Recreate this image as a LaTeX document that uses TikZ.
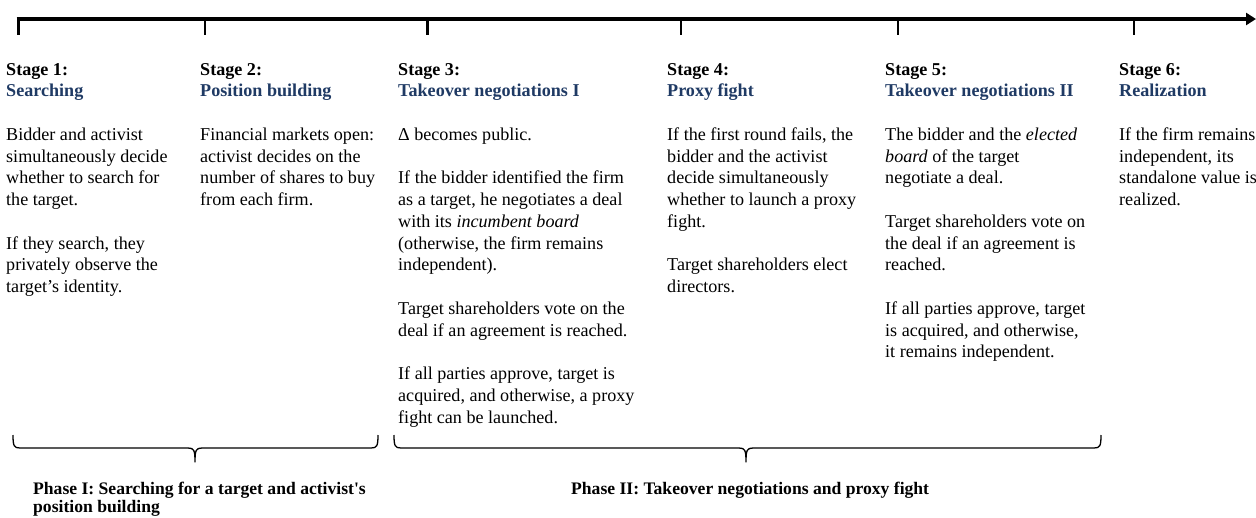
\documentclass[tikz,border=0pt]{standalone}
\usepackage{fontspec}
\setmainfont{Liberation Serif}
\usetikzlibrary{arrows.meta}
\definecolor{headblue}{RGB}{31,58,100}
\newcommand\StgHead[2]{\textbf{#1}\\\textbf{\color{headblue}#2}\\[21.75pt]}
\newcommand\PhBrace[3]{%
  \draw[bracestyle] (#1,435) .. controls (#1,446) and (#1+1,448) .. (#1+7,448)
    -- (#2-7,448) .. controls (#2-1,448) and (#2,450) .. (#2,462)
    .. controls (#2,450) and (#2+1,448) .. (#2+7,448)
    -- (#3-7,448) .. controls (#3-1,448) and (#3,446) .. (#3,435);}
\begin{document}
\begin{tikzpicture}[x=1pt,y=-1pt,
  stagetext/.style={anchor=base west,inner sep=0pt,
    font=\fontsize{18.1}{21.75}\selectfont},
  phasetext/.style={anchor=base west,inner sep=0pt,
    font=\fontsize{17.6}{18.5}\selectfont\bfseries},
  timeline/.style={line width=3.2pt,-{Triangle[length=10pt,width=12pt]}},
  tick/.style={line width=2.7pt},
  bracestyle/.style={line width=1.3pt,line join=round}]
\useasboundingbox (0,0) rectangle (1256,517);
% timeline
\coordinate (t0) at (16.5,19);
\coordinate (tend) at (1256,19);
\draw[timeline] (t0) -- (tend);
\foreach \x/\n in {18.5/1,205/2,427.5/3,681/4,898/5,1134/6}{
  \coordinate (tk\n) at (\x,19);
  \coordinate (tkb\n) at (\x,35);
  \draw[tick] (tk\n) -- (tkb\n);
}
% stages
\node[stagetext] (s1) at (6,75) {\parbox[t]{200pt}{\raggedright
  \StgHead{Stage 1:}{Searching}
  Bidder and activist\\
  simultaneously decide\\
  whether to search for\\
  the target.\\[21.75pt]
  If they search, they\\
  privately observe the\\
  target's identity.}};
\node[stagetext] (s2) at (200,75) {\parbox[t]{200pt}{\raggedright
  \StgHead{Stage 2:}{Position building}
  Financial markets open:\\
  activist decides on the\\
  number of shares to buy\\
  from each firm.}};
\node[stagetext] (s3) at (398,75) {\parbox[t]{270pt}{\raggedright
  \StgHead{Stage 3:}{Takeover negotiations I}
  Δ becomes public.\\[21.75pt]
  If the bidder identified the firm\\
  as a target, he negotiates a deal\\
  with its \textit{incumbent board}\\
  (otherwise, the firm remains\\
  independent).\\[21.75pt]
  Target shareholders vote on the\\
  deal if an agreement is reached.\\[21.75pt]
  If all parties approve, target is\\
  acquired, and otherwise, a proxy\\
  fight can be launched.}};
\node[stagetext] (s4) at (667,75) {\parbox[t]{220pt}{\raggedright
  \StgHead{Stage 4:}{Proxy fight}
  If the first round fails, the\\
  bidder and the activist\\
  decide simultaneously\\
  whether to launch a proxy\\
  fight.\\[21.75pt]
  Target shareholders elect\\
  directors.}};
\node[stagetext] (s5) at (885,75) {\parbox[t]{230pt}{\raggedright
  \StgHead{Stage 5:}{Takeover negotiations II}
  The bidder and the \textit{elected}\\
  \textit{board} of the target\\
  negotiate a deal.\\[21.75pt]
  Target shareholders vote on\\
  the deal if an agreement is\\
  reached.\\[21.75pt]
  If all parties approve, target\\
  is acquired, and otherwise,\\
  it remains independent.}};
\node[stagetext] (s6) at (1119,75) {\parbox[t]{200pt}{\raggedright
  \StgHead{Stage 6:}{Realization}
  If the firm remains\\
  independent, its\\
  standalone value is\\
  realized.}};
% braces
\PhBrace{13}{195}{378}
\PhBrace{394}{746}{1101}
\node[phasetext] (p1) at (33,494) {\parbox[t]{400pt}{\raggedright
  Phase I: Searching for a target and activist\textquotesingle s\\
  position building}};
\node[phasetext] (p2) at (571,494) {Phase II: Takeover negotiations and proxy fight};
\end{tikzpicture}
\end{document}
